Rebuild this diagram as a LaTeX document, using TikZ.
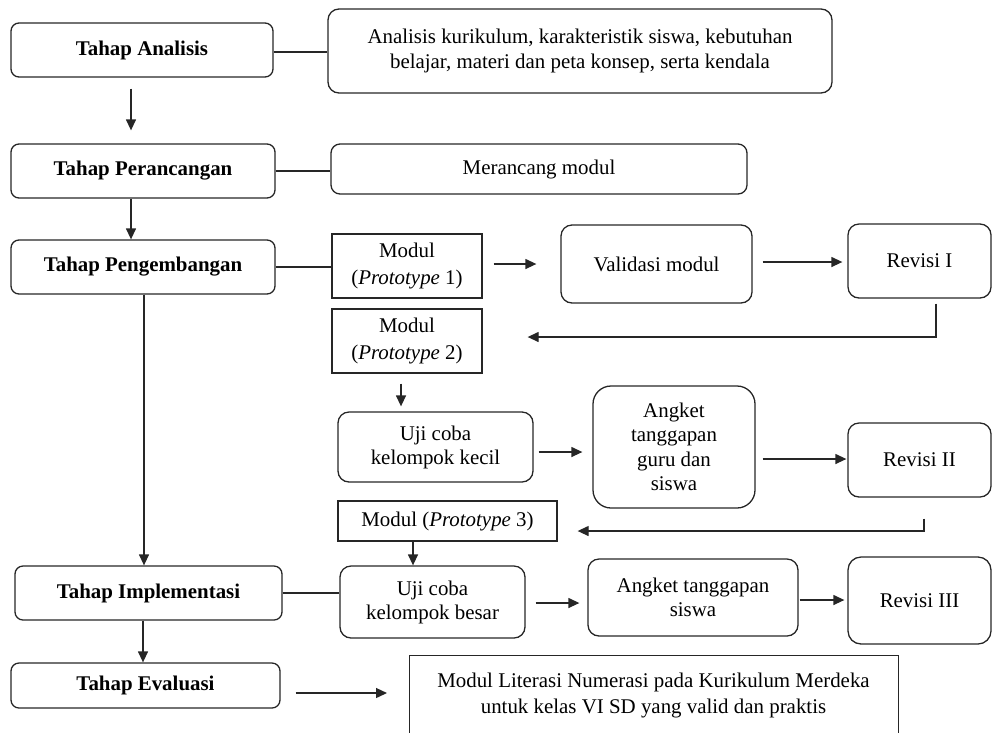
\documentclass[tikz,border=0pt]{standalone}
\usepackage{fontspec}
\setmainfont{Liberation Serif}
\usetikzlibrary{arrows.meta,calc}
\begin{document}
\begin{tikzpicture}[x=1pt,y=-1pt,
  every node/.style={font=\fontsize{20.9pt}{25.5pt}\selectfont, inner sep=0pt, align=center},
  ln/.style={line width=1.3pt, draw=black!85},
  arr/.style={ln, -{Triangle[length=11pt,width=10pt]}},
  stage/.style={draw=black!85, line width=1.3pt, rounded corners=8pt, font=\fontsize{20.9pt}{25.5pt}\selectfont\bfseries},
  rbox/.style={draw=black!85, line width=1.3pt, rounded corners=11pt},
  sbox/.style={draw=black!85, line width=1.3pt},
  tall/.style={font=\fontsize{20.9pt}{27pt}\selectfont}]
\useasboundingbox (0,0) rectangle (992,732);
\clip (0,0) rectangle (992,732);
% left column
\node[stage, minimum width=262pt, minimum height=54pt] (ana) at (142,50) {Tahap Analisis};
\node[stage, minimum width=264pt, minimum height=54pt] (per) at (143,171) {Tahap Perancangan};
\node[stage, minimum width=264pt, minimum height=54pt] (peng) at (143,267) {Tahap Pengembangan};
\node[stage, minimum width=267pt, minimum height=54pt] (impl) at (148.5,593) {Tahap Implementasi};
\node[stage, minimum width=269pt, minimum height=45pt] (eval) at (145.5,685.5) {Tahap Evaluasi};
% right side
\node[rbox, minimum width=504pt, minimum height=84pt, font=\fontsize{20.9pt}{24.5pt}\selectfont] (anatxt) at (580,51) {Analisis kurikulum, karakteristik siswa, kebutuhan\\belajar, materi dan peta konsep, serta kendala};
\node[rbox, rounded corners=9pt, minimum width=416pt, minimum height=50pt] (mer) at (539,169) {Merancang modul};
\node[sbox, tall, minimum width=150pt, minimum height=64pt] (p1) at (407,266) {Modul\\(\textit{Prototype} 1)};
\node[rbox, minimum width=191pt, minimum height=78pt] (val) at (656.5,264) {Validasi modul};
\node[rbox, minimum width=143pt, minimum height=74pt] (rev1) at (919.5,261) {Revisi I};
\node[sbox, tall, minimum width=150pt, minimum height=64pt] (p2) at (407,341) {Modul\\(\textit{Prototype} 2)};
\node[rbox, minimum width=195pt, minimum height=70pt, font=\fontsize{20.9pt}{24pt}\selectfont] (kecil) at (435.5,447) {Uji coba\\kelompok kecil};
\node[rbox, rounded corners=18pt, minimum width=162pt, minimum height=122pt, font=\fontsize{20.9pt}{24.5pt}\selectfont] (ang1) at (674,447) {Angket\\tanggapan\\guru dan\\siswa};
\node[rbox, minimum width=143pt, minimum height=74pt] (rev2) at (919.5,460) {Revisi II};
\node[sbox, minimum width=219pt, minimum height=40pt] (p3) at (447.5,521) {Modul (\textit{Prototype} 3)};
\node[rbox, minimum width=185pt, minimum height=72pt, font=\fontsize{20.9pt}{24pt}\selectfont] (besar) at (432.5,602) {Uji coba\\kelompok besar};
\node[rbox, minimum width=210pt, minimum height=77pt, font=\fontsize{20.9pt}{24pt}\selectfont] (ang2) at (693,597.5) {Angket tanggapan\\siswa};
\node[rbox, rounded corners=13pt, minimum width=143pt, minimum height=87pt] (rev3) at (919.5,600.5) {Revisi III};
\node[sbox, minimum width=489pt, minimum height=115pt, anchor=north west] (fin) at (409,655) {};
\node[font=\fontsize{20.9pt}{26pt}\selectfont] (fintxt) at (653.5,695) {Modul Literasi Numerasi pada Kurikulum Merdeka\\untuk kelas VI SD yang valid dan praktis};
% connectors
\draw[ln] ($(ana.east)+(0,2)$) -- ($(ana.east -| anatxt.west)+(0,2)$);
\draw[arr] ($(ana.south)+(-11,11)$) -- ($(per.north)+(-12,-13)$);
\draw[ln] (per.east) -- (per.east -| mer.west);
\draw[arr] ($(per.south)+(-12,0)$) -- ($(peng.north)+(-12,0)$);
\draw[ln] (peng.east) -- (peng.east -| p1.west);
\draw[arr] ($(p1.east)+(11,-2)$) -- ($(p1.east -| val.west)+(-24,-2)$);
\draw[arr] ($(val.east)+(10,-2)$) -- ($(rev1.west)+(-5,1)$);
\draw[arr] ($(rev1.south)+(16.5,5)$) |- ($(p2.east)+(45,-4)$);
\draw[arr] ($(p2.south)+(-6,10)$) -- ($(p2.south |- kecil.north)+(-6,-5)$);
\draw[arr] ($(kecil.east)+(5,5)$) -- ($(ang1.west)+(-10,5)$);
\draw[arr] ($(ang1.east)+(7,12)$) -- ($(rev2.west)+(-1,-1)$);
\draw[arr] ($(rev2.south)+(4.5,21)$) |- ($(p3.east)+(20,10)$);
\draw[arr] ($(p3.south)+(-34.5,0)$) -- ($(p3.south |- besar.north)+(-34.5,0)$);
\draw[ln] (impl.east) -- (impl.east -| besar.west);
\draw[arr] ($(besar.east)+(10,1)$) -- ($(besar.east -| ang2.west)+(-8,1)$);
\draw[arr] ($(ang2.east)+(1,2.5)$) -- ($(rev3.west)+(-3,-0.5)$);
\draw[arr] ($(peng.south)+(1,0)$) -- ($(peng.south |- impl.north)+(1,0)$);
\draw[arr] ($(impl.south)+(-5.5,0)$) -- ($(impl.south |- eval.north)+(-5.5,0)$);
\draw[arr] ($(eval.east)+(15,7.5)$) -- ($(fin.west |- eval.east)+(-22,7.5)$);
\end{tikzpicture}
\end{document}
